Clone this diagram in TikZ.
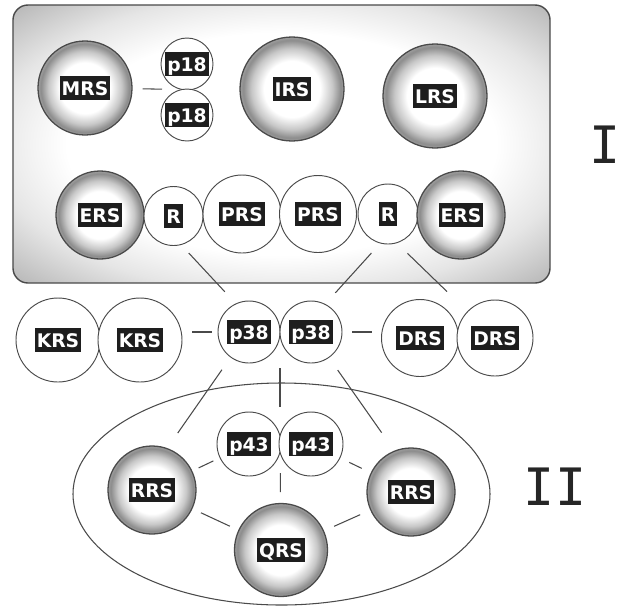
\documentclass[tikz,border=0pt]{standalone}
\usepackage{fontspec}
\usepackage{tikz}
\usepackage{xcolor}
\usetikzlibrary{shapes.geometric}
\newfontfamily\tagfont{DejaVu Sans}
\newfontfamily\romfont{DejaVu Sans Mono}
\definecolor{tagblack}{HTML}{1E1E1E}
\definecolor{rimgray}{HTML}{4A4A4A}
\pgfdeclareradialshading{orbshade}{\pgfpoint{0bp}{0bp}}{color(0bp)=(white); color(13.5bp)=(white); color(19.5bp)=(black!22); color(23.5bp)=(black!45); color(25bp)=(black!38); color(50bp)=(black!38)}
\pgfdeclareradialshading{boxshade}{\pgfpoint{0bp}{0bp}}{color(0bp)=(white); color(20bp)=(white); color(27bp)=(black!10); color(36bp)=(black!30); color(50bp)=(black!30)}
\tikzset{
  orb/.style={circle, draw=rimgray, line width=1.1pt, shading=orbshade, minimum size=#1*0.06cm, inner sep=0pt},
  bub/.style={circle, draw=rimgray, line width=0.8pt, fill=white, minimum size=#1*0.06cm, inner sep=0pt},
  tag/.style={fill=tagblack, text=white, font=\tagfont\bfseries\fontsize{16}{18}\selectfont, inner xsep=0.06cm, inner ysep=0.15cm, text height=0.42cm, text depth=0cm},
  link/.style={draw=rimgray, line width=0.9pt},
  grp/.style={draw=rimgray, line width=1.2pt},
  roman/.style={text=black!85, font=\romfont\fontsize{44}{44}\selectfont, inner sep=0pt}
}

\begin{document}
\begin{tikzpicture}[x=0.03cm, y=-0.03cm]
            \useasboundingbox (0,0) rectangle (621,606);
            % group I and group II
            \node[grp, rounded corners=0.45cm, shading=boxshade, minimum width=16.11cm, minimum height=8.34cm] (box1) at (281.5,144) {};
            \node[grp, ellipse, fill=white, line width=0.9pt, minimum width=12.51cm, minimum height=6.66cm] (oval2) at (281.5,494) {};
            \node[roman] (lab1) at (605,145) {I};
            \node[roman] (lab2) at (555,487) {II};
            % upper row
            \node[orb=47] (mrs) at (85,88) {};
            \node[tag] (mrs-t) at (mrs) {MRS};
            \node[bub=26] (p18a) at (187,64) {};
            \node[tag] (p18a-t) at (p18a) {p18};
            \node[bub=26] (p18b) at (187,115) {};
            \node[tag] (p18b-t) at (p18b) {p18};
            \coordinate (p18j) at (187,89.5);
            \node[orb=52] (irs) at (292,89) {};
            \node[tag] (irs-t) at (irs) {IRS};
            \node[orb=52] (lrs) at (435,96) {};
            \node[tag] (lrs-t) at (lrs) {LRS};
            % lower row of group I
            \node[orb=44] (ersl) at (100,215) {};
            \node[tag] (ersl-t) at (ersl) {ERS};
            \node[bub=29.5] (rl) at (173.5,216) {};
            \node[tag] (rl-t) at (rl) {R};
            \node[bub=39] (prsl) at (242,214) {};
            \node[tag] (prsl-t) at (prsl) {PRS};
            \node[bub=38.5] (prsr) at (318,214) {};
            \node[tag] (prsr-t) at (prsr) {PRS};
            \node[bub=30] (rr) at (388,214) {};
            \node[tag] (rr-t) at (rr) {R};
            \node[orb=44] (ersr) at (461,215) {};
            \node[tag] (ersr-t) at (ersr) {ERS};
            % middle row
            \node[bub=42] (krsl) at (58,340) {};
            \node[tag] (krsl-t) at (krsl) {KRS};
            \node[bub=42] (krsr) at (140,340) {};
            \node[tag] (krsr-t) at (krsr) {KRS};
            \node[bub=31] (p38l) at (249,332) {};
            \node[tag] (p38l-t) at (p38l) {p38};
            \node[bub=31] (p38r) at (311,332) {};
            \node[tag] (p38r-t) at (p38r) {p38};
            \coordinate (p38j) at (280,332);
            \node[bub=38.5] (drsl) at (420,338) {};
            \node[tag] (drsl-t) at (drsl) {DRS};
            \node[bub=38] (drsr) at (495,338) {};
            \node[tag] (drsr-t) at (drsr) {DRS};
            % group II
            \node[bub=32] (p43l) at (249,444) {};
            \node[tag] (p43l-t) at (p43l) {p43};
            \node[bub=32] (p43r) at (311,444) {};
            \node[tag] (p43r-t) at (p43r) {p43};
            \coordinate (p43j) at (280,444);
            \node[orb=44] (rrsl) at (152,490) {};
            \node[tag] (rrsl-t) at (rrsl) {RRS};
            \node[orb=44] (rrsr) at (411,492) {};
            \node[tag] (rrsr-t) at (rrsr) {RRS};
            \node[orb=46.5] (qrs) at (281,550) {};
            \node[tag] (qrs-t) at (qrs) {QRS};
            % links
            \draw[link, shorten <=0.3cm, shorten >=0.75cm] (mrs) -- (p18j);
            \draw[link, shorten <=0.33cm, shorten >=0.48cm] (rl.-75) -- (p38l.115);
            \draw[link, shorten <=0.39cm, shorten >=0.45cm] (rr.-105) -- (p38r.63);
            \draw[link, shorten <=0.44cm, shorten >=0.85cm] (rr.-73) -- (drsr);
            \draw[link, shorten <=0.3cm, shorten >=0.18cm] (krsr.east |- p38l.west) -- (p38l.west);
            \draw[link, shorten <=0.3cm, shorten >=0.28cm] (p38r.east) -- (p38r.east -| drsl.west);
            \draw[link, shorten <=0.45cm, shorten >=0.55cm] (p38l.234) -- (rrsl.70);
            \draw[link, shorten <=1.08cm, shorten >=1.11cm] (p38j) -- (p43j);
            \draw[link, shorten <=0.45cm, shorten >=0.66cm] (p38r.305) -- (rrsr.112);
            \draw[link, shorten <=0.21cm, shorten >=0.21cm] (p43l) -- (rrsl);
            \draw[link, shorten <=0.3cm, shorten >=0.3cm] (p43r) -- (rrsr);
            \draw[link, shorten <=0.87cm, shorten >=0.32cm] (p43j) -- (qrs);
            \draw[link, shorten <=0.28cm, shorten >=0.28cm] (rrsl) -- (qrs);
            \draw[link, shorten <=0.33cm, shorten >=0.33cm] (rrsr) -- (qrs);
        \end{tikzpicture}
\end{document}
